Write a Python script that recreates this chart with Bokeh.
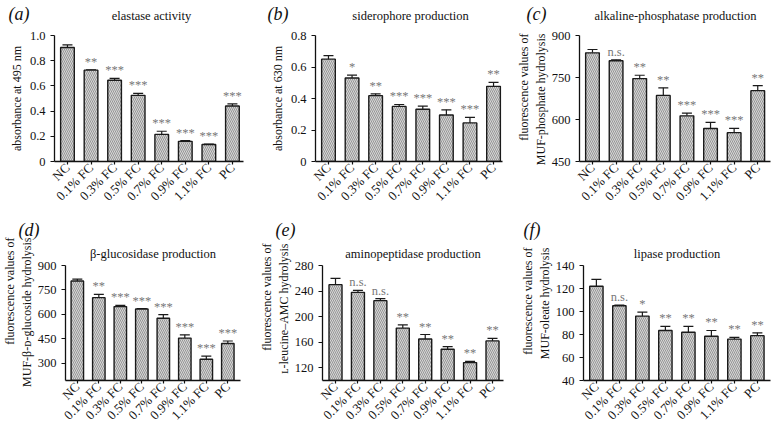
import math
from bokeh.plotting import figure
from bokeh.models import Range1d, FixedTicker, ColumnDataSource, Whisker, TeeHead, Title
from bokeh.layouts import row, column
from bokeh.core.properties import value
from bokeh.embed import file_html
from bokeh.resources import INLINE

# ---------------- data ----------------
categories = ["NC", "0.1% FC", "0.3% FC", "0.5% FC", "0.7% FC", "0.9% FC", "1.1% FC", "PC"]

elastase = [0.905, 0.725, 0.645, 0.525, 0.215, 0.160, 0.135, 0.440]
elastase_err = [0.020, 0.003, 0.015, 0.015, 0.025, 0.005, 0.004, 0.017]
elastase_sig = ["", "**", "***", "***", "***", "***", "***", "***"]

siderophore = [0.650, 0.530, 0.418, 0.350, 0.332, 0.295, 0.245, 0.477]
siderophore_err = [0.022, 0.018, 0.012, 0.012, 0.020, 0.033, 0.035, 0.025]
siderophore_sig = ["", "*", "**", "***", "***", "***", "***", "**"]

phosphatase = [838, 810, 746, 686, 613, 568, 553, 703]
phosphatase_err = [12, 3, 12, 27, 10, 22, 15, 18]
phosphatase_sig = ["", "n.s.", "**", "**", "***", "***", "***", "**"]

glucosidase = [805, 703, 648, 633, 577, 455, 325, 422]
glucosidase_err = [12, 20, 7, 3, 22, 20, 20, 15]
glucosidase_sig = ["", "**", "***", "***", "***", "***", "***", "***"]

aminopeptidase = [250, 238, 225, 182, 165, 149, 128, 162]
aminopeptidase_err = [10, 3, 3, 5, 7, 4, 2, 4]
aminopeptidase_sig = ["", "n.s.", "n.s.", "**", "**", "**", "**", "**"]

lipase = [122, 105, 96, 83.5, 82, 78.5, 76, 79]
lipase_err = [6, 0.5, 3.5, 3.5, 5, 5, 1.5, 2.5]
lipase_sig = ["", "n.s.", "*", "**", "**", "**", "**", "**"]

panels = [
    dict(letter="(a)", title="elastase activity", ylabel="absorbance at 495 nm",
         values=elastase, errors=elastase_err, sig=elastase_sig, ymin=0, ymax=1.0,
         yticks=[0, 0.2, 0.4, 0.6, 0.8, 1.0], yticklabels=["0", "0.2", "0.4", "0.6", "0.8", "1.0"]),
    dict(letter="(b)", title="siderophore production", ylabel="absorbance at 630 nm",
         values=siderophore, errors=siderophore_err, sig=siderophore_sig, ymin=0, ymax=0.8,
         yticks=[0, 0.2, 0.4, 0.6, 0.8], yticklabels=["0", "0.2", "0.4", "0.6", "0.8"]),
    dict(letter="(c)", title="alkaline-phosphatase production",
         ylabel="fluorescence values of\nMUF-phosphate hydrolysis",
         values=phosphatase, errors=phosphatase_err, sig=phosphatase_sig, ymin=450, ymax=900,
         yticks=[450, 600, 750, 900], yticklabels=["450", "600", "750", "900"]),
    dict(letter="(d)", title="β-glucosidase production",
         ylabel="fluorescence values of\nMUF-β-ᴅ-glucoside hydrolysis",
         values=glucosidase, errors=glucosidase_err, sig=glucosidase_sig, ymin=195, ymax=900,
         yticks=[300, 450, 600, 750, 900], yticklabels=["300", "450", "600", "750", "900"]),
    dict(letter="(e)", title="aminopeptidase production",
         ylabel="fluorescence values of\nʟ-leucine–AMC hydrolysis",
         values=aminopeptidase, errors=aminopeptidase_err, sig=aminopeptidase_sig, ymin=100, ymax=280,
         yticks=[120, 160, 200, 240, 280], yticklabels=["120", "160", "200", "240", "280"]),
    dict(letter="(f)", title="lipase production",
         ylabel="fluorescence values of\nMUF-oleate hydrolysis",
         values=lipase, errors=lipase_err, sig=lipase_sig, ymin=40, ymax=140,
         yticks=[40, 60, 80, 100, 120, 140], yticklabels=["40", "60", "80", "100", "120", "140"]),
]

# ---------------- layout (styles / positions) ----------------
HEADER_H = 24
header_letter_x = [8, 267, 526]
header_title_x = [151, 410, 675]

layouts = [
    dict(w=257, h=191, bl=54, br=14, bt=11, bb=54, x0=-0.55, x1=7.47, lstand=3),
    dict(w=257, h=191, bl=58, br=12, bt=11, bb=54, x0=-0.55, x1=7.38, lstand=3),
    dict(w=257, h=191, bl=63, br=1, bt=11, bb=54, x0=-0.55, x1=7.54, lstand=2, yoff=-2),
    dict(w=257, h=215, bl=60, br=17, bt=50, bb=46, x0=-0.55, x1=7.59, lstand=2, yoff=-28,
         toff=2, loff=-47),
    dict(w=257, h=215, bl=65, br=11, bt=50, bb=46, x0=-0.58, x1=7.49, lstand=2, yoff=-22,
         toff=0, loff=-47),
    dict(w=257, h=215, bl=69, br=1, bt=50, bb=46, x0=-0.56, x1=7.57, lstand=2, yoff=-18,
         toff=0, loff=-60),
]

FONT = "Liberation Serif"
INK = "#111111"


def make_panel(pn, lay):
    xs = list(range(len(categories)))
    p = figure(width=lay["w"], height=lay["h"], output_backend="svg", toolbar_location=None,
               title=None,
               x_range=Range1d(lay["x0"], lay["x1"]), y_range=Range1d(pn["ymin"], pn["ymax"]),
               min_border_left=lay["bl"], min_border_right=lay["br"],
               min_border_top=lay["bt"], min_border_bottom=lay["bb"])
    p.outline_line_color = None
    p.grid.visible = False

    etop = [v + e for v, e in zip(pn["values"], pn["errors"])]
    src = ColumnDataSource(dict(x=xs, top=pn["values"], etop=etop, sig=pn["sig"]))

    p.vbar(x="x", top="top", bottom=pn["ymin"], width=0.58, source=src,
           fill_color="#d6d6d6", line_color="#1a1a1a", line_width=1.4,
           hatch_pattern="left_diagonal_line", hatch_color="#858585",
           hatch_scale=4, hatch_weight=0.8)
    p.add_layout(Whisker(source=src, base="x", lower="top", upper="etop", dimension="height",
                         line_color="#1a1a1a", line_width=1.2,
                         upper_head=TeeHead(size=10, line_color="#1a1a1a", line_width=1.2),
                         lower_head=None))
    p.text(x="x", y="etop", text="sig", source=src, text_align="center", text_baseline="bottom",
           y_offset=-1, text_font=value(FONT), text_font_size="12.5px", text_color="#777777")

    xa = p.xaxis[0]
    xa.ticker = FixedTicker(ticks=xs)
    xa.major_label_overrides = {i: c for i, c in enumerate(categories)}
    xa.major_label_orientation = math.pi / 4
    xa.major_tick_out = 3
    xa.major_tick_in = 0
    xa.minor_tick_out = 0
    xa.minor_tick_in = 0
    xa.major_label_standoff = 1
    xa.axis_line_width = 1.3
    xa.axis_line_color = INK
    xa.major_tick_line_width = 1.2
    xa.major_tick_line_color = INK
    xa.major_label_text_font = FONT
    xa.major_label_text_font_size = "13px"
    xa.major_label_text_color = INK

    ya = p.yaxis[0]
    ya.ticker = FixedTicker(ticks=pn["yticks"])
    ya.major_label_overrides = {t: s for t, s in zip(pn["yticks"], pn["yticklabels"])}
    ya.major_tick_out = 4
    ya.major_tick_in = 0
    ya.minor_tick_out = 0
    ya.minor_tick_in = 0
    ya.major_label_standoff = 5
    ya.axis_line_width = 1.3
    ya.axis_line_color = INK
    ya.major_tick_line_width = 1.2
    ya.major_tick_line_color = INK
    ya.major_label_text_font = FONT
    ya.major_label_text_font_size = "12.5px"
    ya.major_label_text_color = INK

    if "yoff" in lay:
        # two-line y label: one title per line, both ending at the top like the reference
        lines = pn["ylabel"].split("\n")
        for k, line in enumerate(reversed(lines)):
            p.add_layout(Title(text=line, align="right", offset=lay["yoff"],
                               standoff=lay["lstand"] if k == 0 else 0,
                               text_font=FONT, text_font_size="12px",
                               text_font_style="normal", text_color=INK), "left")
    else:
        ya.axis_label = pn["ylabel"]
        ya.axis_label_text_font = FONT
        ya.axis_label_text_font_size = "12px"
        ya.axis_label_text_font_style = "normal"
        ya.axis_label_text_color = INK
        ya.axis_label_standoff = lay["lstand"]

    if "loff" in lay:
        p.add_layout(Title(text=pn["title"], align="center", offset=lay["toff"], standoff=10,
                           text_font=FONT, text_font_size="12.5px", text_font_style="normal",
                           text_color=INK), "above")
        p.add_layout(Title(text=pn["letter"], align="left", offset=lay["loff"], standoff=0,
                           text_font=FONT, text_font_size="18px", text_font_style="italic",
                           text_color=INK), "above")
    return p


# header for the first row (panel letters and titles)
hdr = figure(width=771, height=HEADER_H, output_backend="svg", toolbar_location=None, title=None,
             x_range=Range1d(0, 771), y_range=Range1d(HEADER_H, 0),
             x_axis_location=None, y_axis_location=None, min_border=0)
hdr.outline_line_color = None
hdr.grid.visible = False
hdr.text(x=header_letter_x, y=[13] * 3, text=[pn["letter"] for pn in panels[:3]],
         text_font=value(FONT), text_font_style="italic", text_font_size="18px",
         text_baseline="middle", text_align="left", text_color=INK)
hdr.text(x=header_title_x, y=[15] * 3, text=[pn["title"] for pn in panels[:3]],
         text_font=value(FONT), text_font_size="12.5px",
         text_baseline="middle", text_align="center", text_color=INK)

figs = [make_panel(pn, lay) for pn, lay in zip(panels, layouts)]
page = column(hdr, row(*figs[:3]), row(*figs[3:]))
open("out.html", "w").write(file_html(page, INLINE))
